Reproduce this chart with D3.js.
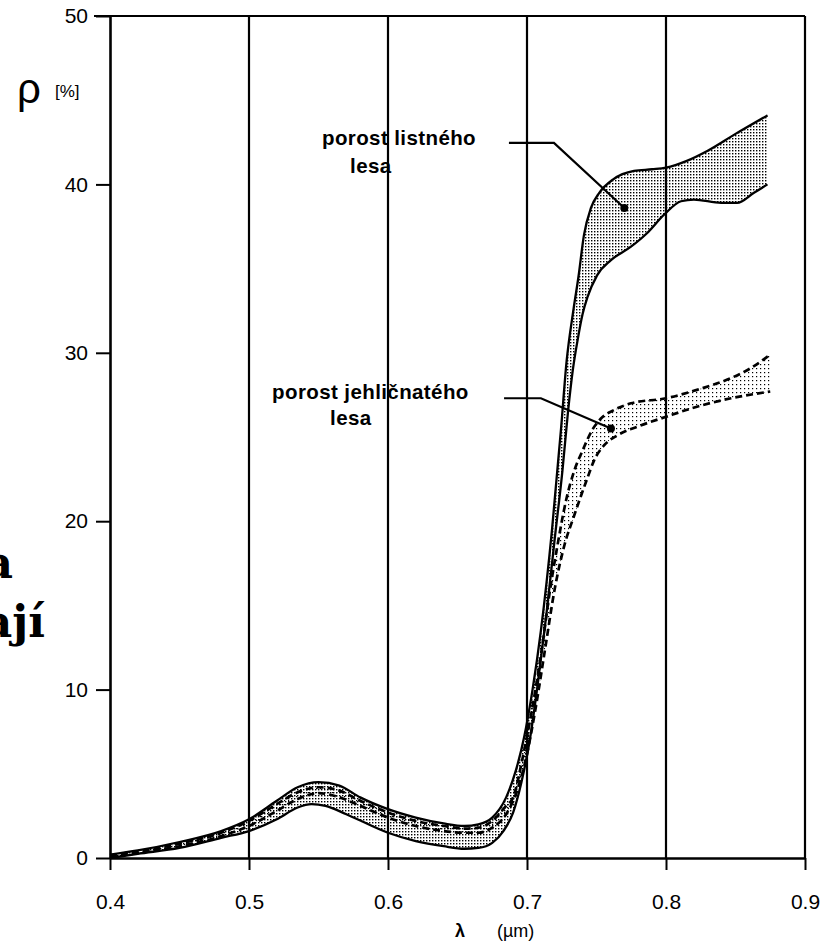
<!DOCTYPE html>
<html><head><meta charset="utf-8">
<script src="https://cdn.jsdelivr.net/npm/d3@7"></script>
<style>
html,body{margin:0;padding:0;background:#fff;}
svg{display:block;}
text{font-family:"Liberation Sans",Arial,Helvetica,sans-serif;fill:#000;}
</style></head>
<body>
<svg id="chart" width="831" height="944"></svg>
<script>
// ---- data (λ in µm, ρ in %) ----
const xTicks = [0.4, 0.5, 0.6, 0.7, 0.8, 0.9];
const yTicks = [0, 10, 20, 30, 40, 50];
const gridValues = [0.5, 0.6, 0.7, 0.8, 0.9];

// deciduous forest (porost listného lesa) – solid boundaries
const decidUpper = [[0.400,0.2],[0.420,0.45],[0.450,0.95],[0.480,1.6],[0.500,2.3],[0.520,3.4],[0.535,4.2],[0.550,4.5],[0.565,4.3],[0.580,3.6],[0.600,2.9],[0.620,2.4],[0.640,2.05],[0.655,1.9],[0.665,2.0],[0.675,2.4],[0.685,3.6],[0.692,5.2],[0.698,7.2],[0.704,10.0],[0.710,13.5],[0.718,19.5],[0.7245,25.5],[0.7285,29.5],[0.7335,32.6],[0.737,34.5],[0.741,37.0],[0.746,38.6],[0.752,39.5],[0.762,40.3],[0.777,40.8],[0.790,40.9],[0.800,41.0],[0.815,41.4],[0.830,42.0],[0.850,43.0],[0.873,44.1]];
const decidLower = [[0.400,0.0],[0.420,0.25],[0.450,0.6],[0.480,1.2],[0.500,1.6],[0.520,2.3],[0.535,3.0],[0.545,3.2],[0.555,3.1],[0.570,2.6],[0.600,1.5],[0.620,1.0],[0.640,0.7],[0.655,0.55],[0.665,0.6],[0.675,0.9],[0.683,1.6],[0.690,2.7],[0.696,4.5],[0.702,7.0],[0.708,10.5],[0.714,14.5],[0.720,19.0],[0.7255,23.0],[0.7295,26.5],[0.733,29.0],[0.7365,30.8],[0.740,32.3],[0.7435,33.3],[0.7504,34.6],[0.7604,35.5],[0.7748,36.3],[0.7863,37.1],[0.7986,38.2],[0.8108,39.0],[0.8201,39.1],[0.8396,38.9],[0.8511,38.9],[0.8633,39.5],[0.873,40.0]];

// coniferous forest (porost jehličnatého lesa) – dashed boundaries
const conifUpper = [[0.400,0.15],[0.420,0.4],[0.450,0.85],[0.480,1.5],[0.500,2.2],[0.520,3.2],[0.535,3.9],[0.550,4.2],[0.565,4.0],[0.580,3.4],[0.600,2.7],[0.620,2.2],[0.640,1.9],[0.655,1.75],[0.665,1.8],[0.675,2.2],[0.684,3.0],[0.690,3.6],[0.697,6.0],[0.704,9.0],[0.711,12.6],[0.716,15.6],[0.722,18.6],[0.728,21.2],[0.734,23.0],[0.740,24.2],[0.7468,25.4],[0.7532,26.1],[0.7626,26.6],[0.7748,27.0],[0.800,27.3],[0.8223,27.8],[0.8468,28.5],[0.8612,29.1],[0.875,29.9]];
const conifLower = [[0.400,0.05],[0.420,0.3],[0.450,0.7],[0.480,1.3],[0.500,1.9],[0.520,2.8],[0.535,3.5],[0.550,3.85],[0.565,3.6],[0.580,3.1],[0.600,2.4],[0.620,1.9],[0.640,1.6],[0.655,1.5],[0.665,1.5],[0.675,1.8],[0.685,2.6],[0.692,3.8],[0.699,5.8],[0.706,8.8],[0.713,12.4],[0.720,16.0],[0.727,18.6],[0.7338,20.3],[0.7388,21.5],[0.7432,22.5],[0.7482,23.6],[0.7554,24.5],[0.765,25.1],[0.7791,25.6],[0.800,26.2],[0.8223,26.8],[0.8468,27.3],[0.875,27.7]];

// annotations
const leaderDecid = [[0.687,42.46],[0.7194,42.46],[0.770,38.6]];
const leaderConif = [[0.6835,27.3],[0.710,27.3],[0.7604,25.5]];
const labelDecid = {lines:["porost listného","lesa"], at:[[0.5525,42.34],[0.5727,40.68]]};
const labelConif = {lines:["porost jehličnatého","lesa"], at:[[0.5166,27.26],[0.5583,25.71]]};

// ---- chart ----
const svg = d3.select("#chart");
const x = d3.scaleLinear().domain([0.4, 0.9]).range([110, 805]);
const y = d3.scaleLinear().domain([0, 50]).range([858, 16]);

const defs = svg.append("defs");
const pD = defs.append("pattern").attr("id","patD").attr("patternUnits","userSpaceOnUse").attr("width",3).attr("height",3);
pD.append("rect").attr("x",0).attr("y",0).attr("width",1.4).attr("height",1.4).attr("fill","#000");
const pC = defs.append("pattern").attr("id","patC").attr("patternUnits","userSpaceOnUse").attr("width",4).attr("height",4);
pC.append("rect").attr("x",0).attr("y",0).attr("width",1.2).attr("height",1.2).attr("fill","#000");

const under = d3.area().x(d=>x(d[0])).y0(y(0)).y1(d=>y(d[1])).curve(d3.curveMonotoneX);
const line = d3.line().x(d=>x(d[0])).y(d=>y(d[1])).curve(d3.curveMonotoneX);

function band(id, hi, lo, pat){
  const m = defs.append("mask").attr("id",id).attr("maskUnits","userSpaceOnUse")
    .attr("x",0).attr("y",0).attr("width",831).attr("height",944);
  m.append("path").attr("d",under(hi)).attr("fill","#fff");
  m.append("path").attr("d",under(lo)).attr("fill","#000");
  svg.append("rect").attr("x",x(0.4)).attr("y",y(50)).attr("width",x(0.9)-x(0.4)).attr("height",y(0)-y(50))
    .attr("fill","url(#"+pat+")").attr("mask","url(#"+id+")");
}
band("mD", decidUpper, decidLower, "patD");
band("mC", conifUpper, conifLower, "patC");

// grid lines and frame
svg.append("g").selectAll("line").data(gridValues).join("line")
  .attr("x1",d=>x(d)).attr("x2",d=>x(d)).attr("y1",y(0)).attr("y2",y(50))
  .attr("stroke","#000").attr("stroke-width",2.2);
svg.append("line").attr("x1",x(0.4)-16).attr("x2",x(0.9)).attr("y1",y(50)).attr("y2",y(50))
  .attr("stroke","#000").attr("stroke-width",2);

// axes
const yAxis = svg.append("g").attr("transform",`translate(${x(0.4)},0)`)
  .call(d3.axisLeft(y).tickValues(yTicks).tickSize(14).tickSizeOuter(0).tickPadding(8).tickFormat(d3.format("d")));
yAxis.select(".domain").attr("stroke-width",2.6);
yAxis.selectAll(".tick line").attr("stroke-width",2);
yAxis.selectAll("text").attr("font-size",21).style("font-family","'Liberation Sans',Arial,sans-serif");

const xAxis = svg.append("g").attr("transform",`translate(0,${y(0)})`)
  .call(d3.axisBottom(x).tickValues(xTicks).tickSize(12).tickSizeOuter(0).tickPadding(24).tickFormat(d3.format(".1f")));
xAxis.select(".domain").attr("stroke-width",2.6);
xAxis.selectAll(".tick line").attr("stroke-width",2);
xAxis.selectAll("text").attr("font-size",21).style("font-family","'Liberation Sans',Arial,sans-serif");

// curves
[decidUpper, decidLower].forEach(s=>{
  svg.append("path").attr("d",line(s)).attr("fill","none").attr("stroke","#000").attr("stroke-width",2.3);
});
[conifUpper, conifLower].forEach(s=>{
  svg.append("path").attr("d",line(s)).attr("fill","none").attr("stroke","#000").attr("stroke-width",2.7)
    .attr("stroke-dasharray","7,4");
});

// leaders
const lineL = d3.line().x(d=>x(d[0])).y(d=>y(d[1]));
[leaderDecid, leaderConif].forEach(L=>{
  svg.append("path").attr("d",lineL(L)).attr("fill","none").attr("stroke","#000").attr("stroke-width",2.2);
  const e = L[L.length-1];
  svg.append("circle").attr("cx",x(e[0])).attr("cy",y(e[1])).attr("r",4).attr("fill","#000");
});
[labelDecid, labelConif].forEach(lb=>{
  lb.lines.forEach((t,i)=>{
    svg.append("text").attr("x",x(lb.at[i][0])).attr("y",y(lb.at[i][1]))
      .attr("font-size",20.5).attr("font-weight","bold").attr("letter-spacing",0.4).text(t);
  });
});

// axis titles
svg.append("text").attr("x",17).attr("y",103).attr("font-size",42).text("ρ");
svg.append("text").attr("x",55).attr("y",97).attr("font-size",17).text("[%]");
svg.append("text").attr("x",455).attr("y",937).attr("font-size",18).attr("font-weight","bold").text("λ");
svg.append("text").attr("x",497).attr("y",937).attr("font-size",18).text("(µm)");

// cut-off slide text at the left edge (as in the reference)
svg.append("text").attr("x",13).attr("y",578).attr("text-anchor","end")
  .attr("font-size",44).attr("font-weight","bold").style("font-family","'DejaVu Serif',serif").text("a");
svg.append("text").attr("x",45).attr("y",637).attr("text-anchor","end")
  .attr("font-size",44).attr("font-weight","bold").style("font-family","'DejaVu Serif',serif").text("ají");
</script>
</body></html>
